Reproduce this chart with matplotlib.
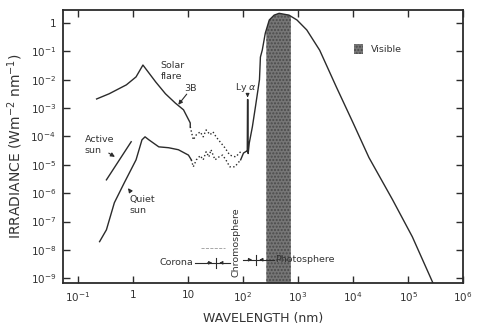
import numpy as np
import matplotlib
matplotlib.use("Agg")
import matplotlib.pyplot as plt
from matplotlib.patches import Patch

plt.rcParams['font.family'] = ['DejaVu Sans']

# solar flare (3B), solid part then dotted part
flare_wl = [0.219, 0.37, 0.76, 1.14, 1.52, 1.95, 2.6, 3.9, 5.9, 8.3, 11.0, 11.0]
flare_irr = [2.1e-3, 3.2e-3, 6.6e-3, 1.26e-2, 3.3e-2, 1.74e-2, 8.3e-3, 3.2e-3, 1.5e-3, 8.7e-4, 3.0e-4, 2.2e-4]
flare_dot_wl = [11.0, 12.5, 14.2, 16.7, 18.9, 21.4, 25.2, 28.5, 32.4, 38.2, 46.8, 57.4, 73.6, 90.6]
flare_dot_irr = [2.2e-4, 7.6e-5, 1.15e-4, 1.45e-4, 9.7e-5, 1.7e-4, 1.15e-4, 1.45e-4, 9.7e-5,
                 6.5e-5, 4.0e-5, 2.2e-5, 1.9e-5, 2.9e-5]

# quiet sun, x-ray / EUV part
quiet_wl = [0.248, 0.33, 0.46, 0.695, 1.14, 1.46, 1.66, 1.95, 2.95, 4.46, 6.7, 10.2, 11.5]
quiet_irr = [1.95e-8, 5.1e-8, 4.6e-7, 2.3e-6, 1.5e-5, 7.6e-5, 9.7e-5, 7.6e-5, 4.3e-5, 4.0e-5,
             3.4e-5, 2.2e-5, 1.5e-5]
quiet_dot_wl = [11.5, 12.5, 14.2, 16.7, 18.9, 21.4, 24.0, 26.2, 31.0, 36.6, 42.7, 51.0, 57.4, 71.0, 90.6]
quiet_dot_irr = [1.5e-5, 8.5e-6, 1.5e-5, 2.1e-5, 1.5e-5, 2.9e-5, 1.9e-5, 3.4e-5, 1.5e-5, 1.9e-5,
                 2.2e-5, 1.3e-5, 8.5e-6, 8.5e-6, 1.5e-5]

# UV - visible - IR spectrum (with Lyman alpha spike)
spec_wl = [90.6, 102, 115, 119.5, 120.8, 122.5, 124, 130, 148, 168, 199, 207, 224, 254, 300, 368,
           453, 684, 955, 1440, 2470, 4950, 1.0e4, 1.94e4, 5.2e4, 1.19e5, 2.8e5]
spec_irr = [1.5e-5, 2.6e-5, 3.0e-5, 3.0e-5, 2.0e-3, 2.0e-3, 2.5e-5, 5.9e-5, 2.2e-4, 1.1e-3, 1.0e-2,
            6.3e-2, 0.112, 0.44, 1.28, 1.9, 2.2, 1.9, 1.28, 0.57, 0.11, 5.6e-3, 3.0e-4, 1.8e-5,
            5.9e-7, 2.9e-8, 7.0e-10]

# active sun, short-wavelength branch
active_wl = [0.33, 0.93]
active_irr = [2.95e-6, 6.5e-5]

visible_band = (265, 740)

xticks = [1e-1, 1, 10, 1e2, 1e3, 1e4, 1e5, 1e6]
xlabels = [r'$10^{-1}$', '1', '10', r'$10^{2}$', r'$10^{3}$', r'$10^{4}$', r'$10^{5}$', r'$10^{6}$']
yticks = [10.0 ** k for k in range(0, -10, -1)]
ylabels = ['1'] + [r'$10^{%d}$' % k for k in range(-1, -10, -1)]

fig = plt.figure(figsize=(4.81, 3.33), dpi=100)
ax = fig.add_axes([0.131, 0.15, 0.832, 0.82])
ax.set_xscale('log')
ax.set_yscale('log')
ax.set_xlim(10 ** -1.27, 10 ** 5.9)
ax.set_ylim(10 ** -9.17, 10 ** 0.46)

lc = '#2b2b2b'
band_face = '#767676'
band_hatch = '#4a4a4a'

# visible band, filled under the curve
lw_log = np.log10(spec_wl)
li_log = np.log10(spec_irr)
vx = np.logspace(np.log10(visible_band[0]), np.log10(visible_band[1]), 60)
vy = 10 ** np.interp(np.log10(vx), lw_log, li_log)
ax.fill_between(vx, 1e-12, vy, facecolor=band_face, edgecolor=band_hatch, hatch='.....',
                linewidth=0, zorder=1)

ax.plot(flare_wl, flare_irr, color=lc, lw=1.0, zorder=3)
ax.plot(flare_dot_wl, flare_irr[-1:] + flare_dot_irr[1:], color=lc, lw=1.0, ls=':', zorder=3)
ax.plot(quiet_wl, quiet_irr, color=lc, lw=1.0, zorder=3)
ax.plot(quiet_dot_wl, quiet_dot_irr, color=lc, lw=1.0, ls=':', zorder=3)
ax.plot(spec_wl, spec_irr, color=lc, lw=1.0, zorder=3)
ax.plot(active_wl, active_irr, color=lc, lw=1.0, zorder=3)

fs = 6.8
ax.text(3.2, 0.045, 'Solar\nflare', fontsize=fs, ha='left', va='top', color='#333', linespacing=1.3)
ax.text(8.6, 4.8e-3, '3B', fontsize=fs, ha='left', va='center', color='#333')
ax.annotate('', xy=(6.2, 1.1e-3), xytext=(10.2, 3.7e-3),
            arrowprops=dict(arrowstyle='-|>', color=lc, lw=0.8, mutation_scale=6))
ax.text(0.133, 1.1e-4, 'Active\nsun', fontsize=fs, ha='left', va='top', color='#333', linespacing=1.3)
ax.annotate('', xy=(0.52, 1.7e-5), xytext=(0.33, 2.9e-5),
            arrowprops=dict(arrowstyle='-|>', color=lc, lw=0.8, mutation_scale=6))
ax.text(0.86, 8.5e-7, 'Quiet\nsun', fontsize=fs, ha='left', va='top', color='#333', linespacing=1.3)
ax.annotate('', xy=(0.76, 1.8e-6), xytext=(0.95, 1.0e-6),
            arrowprops=dict(arrowstyle='-|>', color=lc, lw=0.8, mutation_scale=6))
ax.text(112, 5.5e-3, r'Ly $\alpha$', fontsize=fs, ha='center', va='center', color='#333')
ax.annotate('', xy=(121, 1.9e-3), xytext=(121, 3.6e-3),
            arrowprops=dict(arrowstyle='-|>', color=lc, lw=0.8, mutation_scale=5))

# atmosphere layers
ax.text(12.5, 3.5e-9, 'Corona', fontsize=fs, ha='right', va='center', color='#333')
ax.plot([13.5, 57], [3.5e-9, 3.5e-9], color=lc, lw=0.8)
ax.plot([32, 32], [2.3e-9, 5.3e-9], color=lc, lw=0.8)
ax.annotate('', xy=(31, 3.5e-9), xytext=(20, 3.5e-9),
            arrowprops=dict(arrowstyle='-|>', color=lc, lw=0.6, mutation_scale=5))
ax.annotate('', xy=(33, 3.5e-9), xytext=(48, 3.5e-9),
            arrowprops=dict(arrowstyle='-|>', color=lc, lw=0.6, mutation_scale=5))
ax.plot([17.4, 46.8], [1.2e-8, 1.2e-8], color='#999', lw=0.6, ls='--')
ax.text(75, 1.8e-8, 'Chromosphere', fontsize=fs, rotation=90, ha='center', va='center', color='#333')
ax.plot([98, 360], [4.5e-9, 4.5e-9], color=lc, lw=0.8)
ax.plot([170, 170], [3.0e-9, 6.8e-9], color=lc, lw=0.8)
ax.annotate('', xy=(164, 4.5e-9), xytext=(110, 4.5e-9),
            arrowprops=dict(arrowstyle='-|>', color=lc, lw=0.6, mutation_scale=5))
ax.annotate('', xy=(176, 4.5e-9), xytext=(260, 4.5e-9),
            arrowprops=dict(arrowstyle='-|>', color=lc, lw=0.6, mutation_scale=5))
ax.text(380, 4.6e-9, 'Photosphere', fontsize=fs, ha='left', va='center', color='#333')

leg = ax.legend(handles=[Patch(facecolor=band_face, edgecolor=band_hatch, hatch='.....', lw=0)],
                labels=['Visible'], loc='center left', bbox_to_anchor=(0.705, 0.857),
                frameon=False, fontsize=fs, handlelength=1.0, handleheight=1.3, handletextpad=0.8)
for t in leg.get_texts():
    t.set_color('#333')

ax.set_xticks(xticks)
ax.set_xticklabels(xlabels)
ax.set_yticks(yticks)
ax.set_yticklabels(ylabels)
ax.minorticks_off()
ax.tick_params(direction='in', length=5, width=1.0, top=True, right=True,
               labelsize=7.5, labelcolor='#333', pad=5, color=lc)
for s in ax.spines.values():
    s.set_linewidth(1.3)
    s.set_color(lc)

ax.set_xlabel('WAVELENGTH (nm)', fontsize=9, color='#333', labelpad=6)
ax.set_ylabel(r'IRRADIANCE (Wm$^{-2}$ nm$^{-1}$)', fontsize=10, color='#333', labelpad=4)

fig.savefig('out.png', dpi=100)
